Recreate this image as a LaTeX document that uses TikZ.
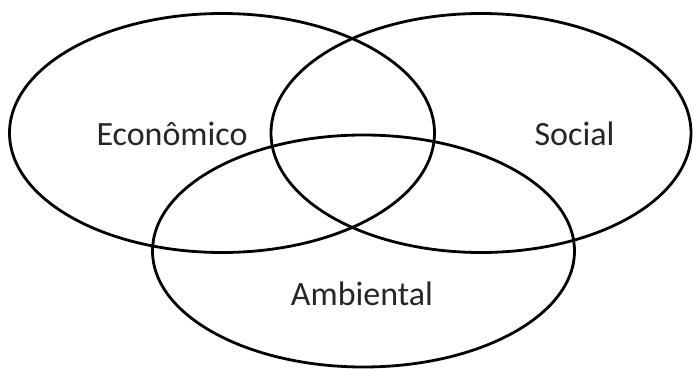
\documentclass[tikz,border=0pt]{standalone}
\usepackage{fontspec}
\setmainfont{Carlito}
\usetikzlibrary{shapes.geometric}
\begin{document}
\begin{tikzpicture}[x=1pt,y=-1pt,
  circ/.style={ellipse, draw=black, line width=2.8pt, inner sep=0pt, outer sep=0pt},
  lbl/.style={anchor=base, inner sep=0pt, font=\fontsize{34}{40}\selectfont, text=black!85}]
  \useasboundingbox (0,0) rectangle (693,369);
  \fill[white] (0,0) rectangle (693,369);
  \node[circ, minimum width=425pt, minimum height=239pt] (eco) at (222,133) {};
  \node[circ, minimum width=420pt, minimum height=239pt] (soc) at (481,133) {};
  \node[circ, minimum width=422pt, minimum height=232pt] (amb) at (363.5,251) {};
  \node[lbl] (teco) at (172,145.5) {Econômico};
  \node[lbl] (tsoc) at (574.5,145.5) {Social};
  \node[lbl] (tamb) at (362,305) {Ambiental};
\end{tikzpicture}
\end{document}
